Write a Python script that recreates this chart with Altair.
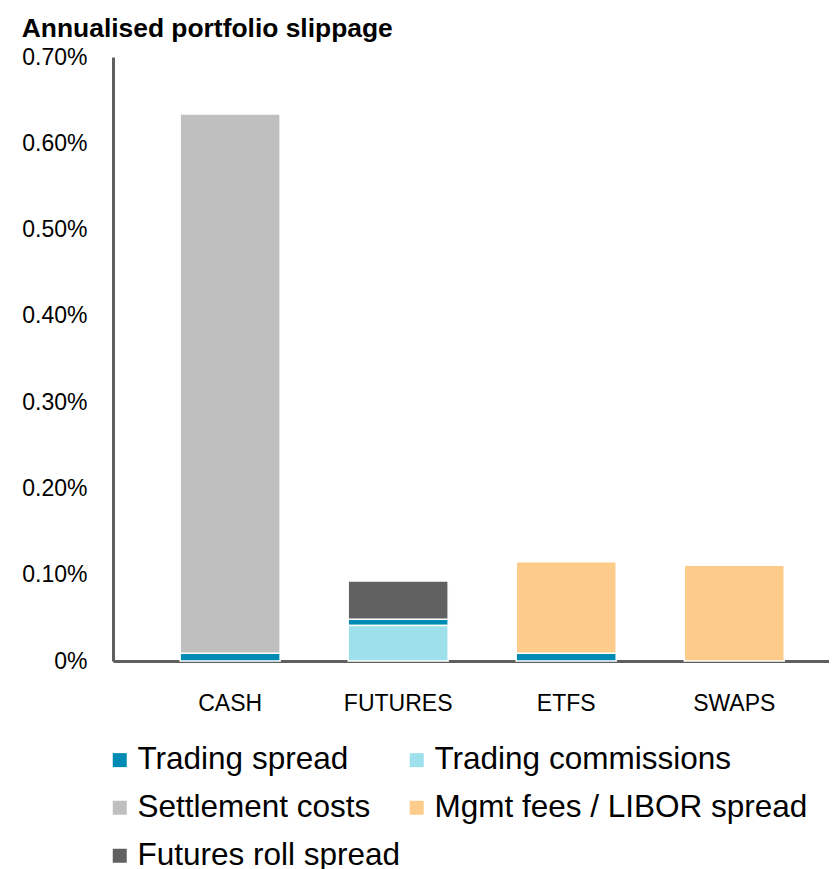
import altair as alt
import pandas as pd

categories = ["CASH", "FUTURES", "ETFS", "SWAPS"]
series = ["Trading spread", "Trading commissions", "Settlement costs",
          "Mgmt fees / LIBOR spread", "Futures roll spread"]
colors = ["#008BB5", "#9EE0EC", "#BFBFBF", "#FDCC8A", "#616161"]

# values in percent
trading_spread = [0.009, 0.0073, 0.009, 0.0]
trading_commissions = [0.0, 0.041, 0.0, 0.0]
settlement_costs = [0.625, 0.0, 0.0, 0.0]
mgmt_fees = [0.0, 0.0, 0.106, 0.111]
futures_roll = [0.0, 0.0444, 0.0, 0.0]

# stacking order (bottom = 0) per category
stack_order = {
    "CASH": ["Trading spread", "Settlement costs"],
    "FUTURES": ["Trading commissions", "Trading spread", "Futures roll spread"],
    "ETFS": ["Trading spread", "Mgmt fees / LIBOR spread"],
    "SWAPS": ["Mgmt fees / LIBOR spread"],
}

vals = dict(zip(series, [trading_spread, trading_commissions, settlement_costs,
                         mgmt_fees, futures_roll]))
rows = []
for i, c in enumerate(categories):
    for s in series:
        v = vals[s][i]
        if v > 0:
            rows.append({"cat": c, "series": s, "value": v,
                         "ord": stack_order[c].index(s)})
df = pd.DataFrame(rows)

FONT = "Liberation Sans"

chart = alt.Chart(df).mark_bar(stroke="white", strokeWidth=1.5).encode(
    x=alt.X("cat:N", sort=categories, title=None,
            scale=alt.Scale(paddingInner=0.405, paddingOuter=0.333, align=0.6),
            axis=alt.Axis(labelAngle=0, ticks=False, labelPadding=31,
                          labelFontSize=23, labelFont=FONT, labelColor="black",
                          domainColor="#5F5F5F", domainWidth=3)),
    y=alt.Y("value:Q", stack="zero", title=None,
            scale=alt.Scale(domain=[0, 0.7], nice=False),
            axis=alt.Axis(values=[0, 0.1, 0.2, 0.3, 0.4, 0.5, 0.6, 0.7],
                          labelExpr="datum.value == 0 ? '0%' : format(datum.value, '.2f') + '%'",
                          ticks=False, grid=False, labelPadding=26,
                          labelFontSize=23, labelFont=FONT, labelColor="black",
                          domainColor="#5F5F5F", domainWidth=3)),
    color=alt.Color("series:N", title=None,
                    scale=alt.Scale(domain=series, range=colors),
                    legend=alt.Legend(orient="none", legendX=-9, legendY=687,
                                      direction="horizontal",
                                      columns=2, columnPadding=-12, rowPadding=15,
                                      symbolType="square", symbolSize=196,
                                      symbolStrokeWidth=0, labelOffset=2,
                                      labelFontSize=31.5, labelFont=FONT,
                                      labelColor="black", labelLimit=600)),
    order=alt.Order("ord:Q"),
).properties(
    width=716, height=604,
    title=alt.TitleParams("Annualised portfolio slippage", anchor="start",
                          frame="bounds", fontSize=26.4, fontWeight="bold",
                          font=FONT, color="black", offset=4),
    padding={"left": 13, "top": 7, "right": 0, "bottom": 0},
).configure_view(stroke=None)

chart.save("out.html", embed_options={"renderer": "svg", "actions": False})
